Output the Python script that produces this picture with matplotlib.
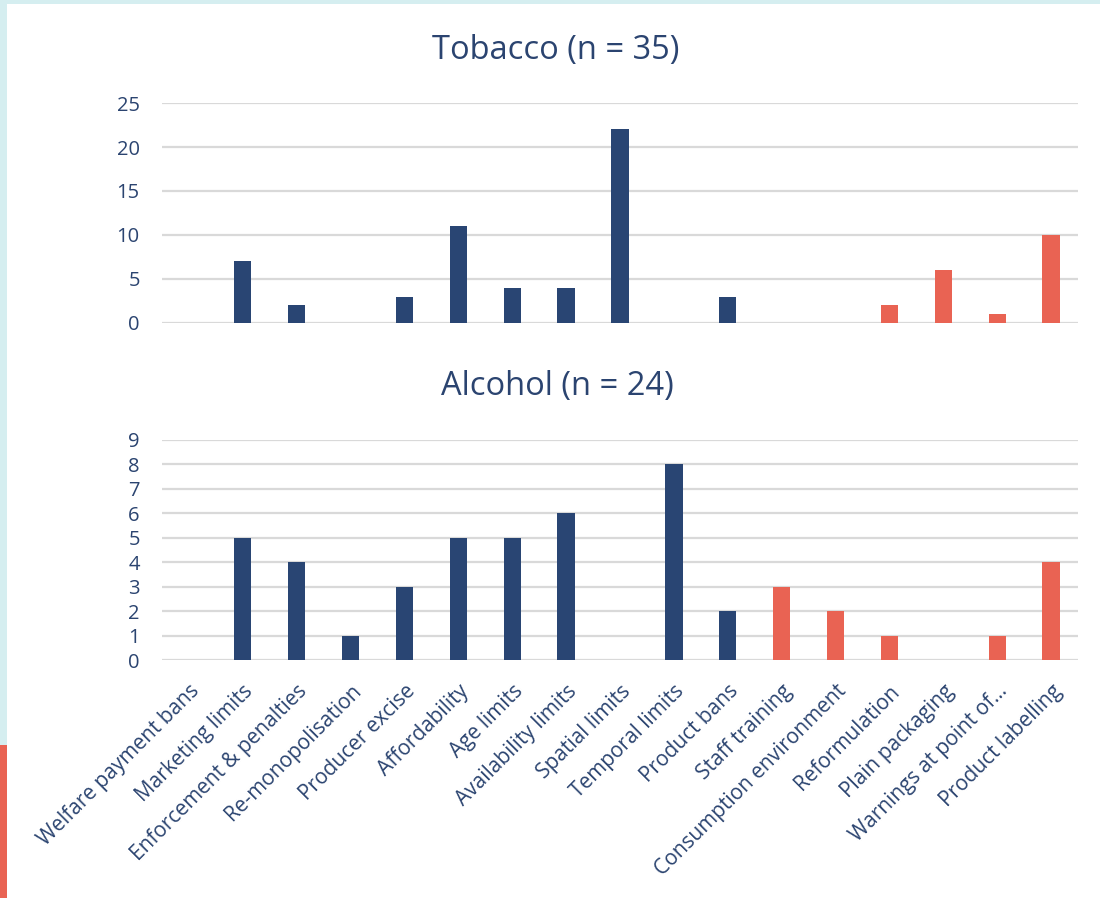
import matplotlib
matplotlib.use("Agg")
from matplotlib import pyplot as plt
from matplotlib.patches import Rectangle
import numpy as np

# Categories and counts
categories = ["Welfare payment bans", "Marketing limits", "Enforcement & penalties",
              "Re-monopolisation", "Producer excise", "Affordability", "Age limits",
              "Availability limits", "Spatial limits", "Temporal limits", "Product bans",
              "Staff training", "Consumption environment", "Reformulation",
              "Plain packaging", "Warnings at point of…", "Product labelling"]
tobacco = [0, 7, 2, 0, 3, 11, 4, 4, 22, 0, 3, 0, 0, 2, 6, 1, 10]
alcohol = [0, 5, 4, 1, 3, 5, 5, 6, 0, 8, 2, 3, 2, 1, 0, 1, 4]
# first 11 categories are navy, the rest red
n_navy = 11

navy = "#294573"
red = "#E96353"
txt = "#2B4470"
grid = "#D9D9D9"

plt.rcParams['font.family'] = ['Open Sans', 'DejaVu Sans']

fig = plt.figure(figsize=(11, 8.98), dpi=100)
fig.patch.set_facecolor("#D5EEF0")
# white slide panel and red decoration at bottom left
fig.add_artist(Rectangle((0, 0), 7/1100, 153/898, transform=fig.transFigure,
                         facecolor=red, edgecolor="none", zorder=0))
fig.add_artist(Rectangle((7/1100, 0), 1, 894/898, transform=fig.transFigure,
                         facecolor="white", edgecolor="none", zorder=0))

x = np.arange(len(categories))
colors = [navy if i < n_navy else red for i in range(len(categories))]

ax1 = fig.add_axes([162/1100, 575/898, 916/1100, 220/898])
ax2 = fig.add_axes([162/1100, 238/898, 916/1100, 220/898])

for ax, vals, top, step in [(ax1, tobacco, 25, 5), (ax2, alcohol, 9, 1)]:
    ax.set_facecolor("none")
    ax.bar(x, vals, width=0.32, color=colors, zorder=3)
    ax.set_xlim(-0.5, len(categories) - 0.5)
    ax.set_ylim(0, top)
    ax.set_yticks(np.arange(0, top + 1, step))
    ax.yaxis.grid(True, color=grid, lw=1.6, zorder=0)
    ax.set_axisbelow(True)
    for s in ax.spines.values():
        s.set_visible(False)
    ax.tick_params(axis='both', length=0, labelsize=14.5, colors=txt)
    ax.tick_params(axis='y', pad=16)

fig.text(556/1100, 1 - 51/898, "Tobacco (n = 35)", fontsize=23.5, color=txt,
         ha='center', va='center')
fig.text(557/1100, 1 - 387/898, "Alcohol (n = 24)", fontsize=23.5, color=txt,
         ha='center', va='center')

ax1.set_xticks(x)
ax1.set_xticklabels([])
ax2.set_xticks(x)
ax2.set_xticklabels(categories, rotation=45, ha='right', rotation_mode='anchor',
                    fontsize=15)
ax2.tick_params(axis='x', pad=15)

fig.savefig("out.png", dpi=100, facecolor=fig.get_facecolor())
